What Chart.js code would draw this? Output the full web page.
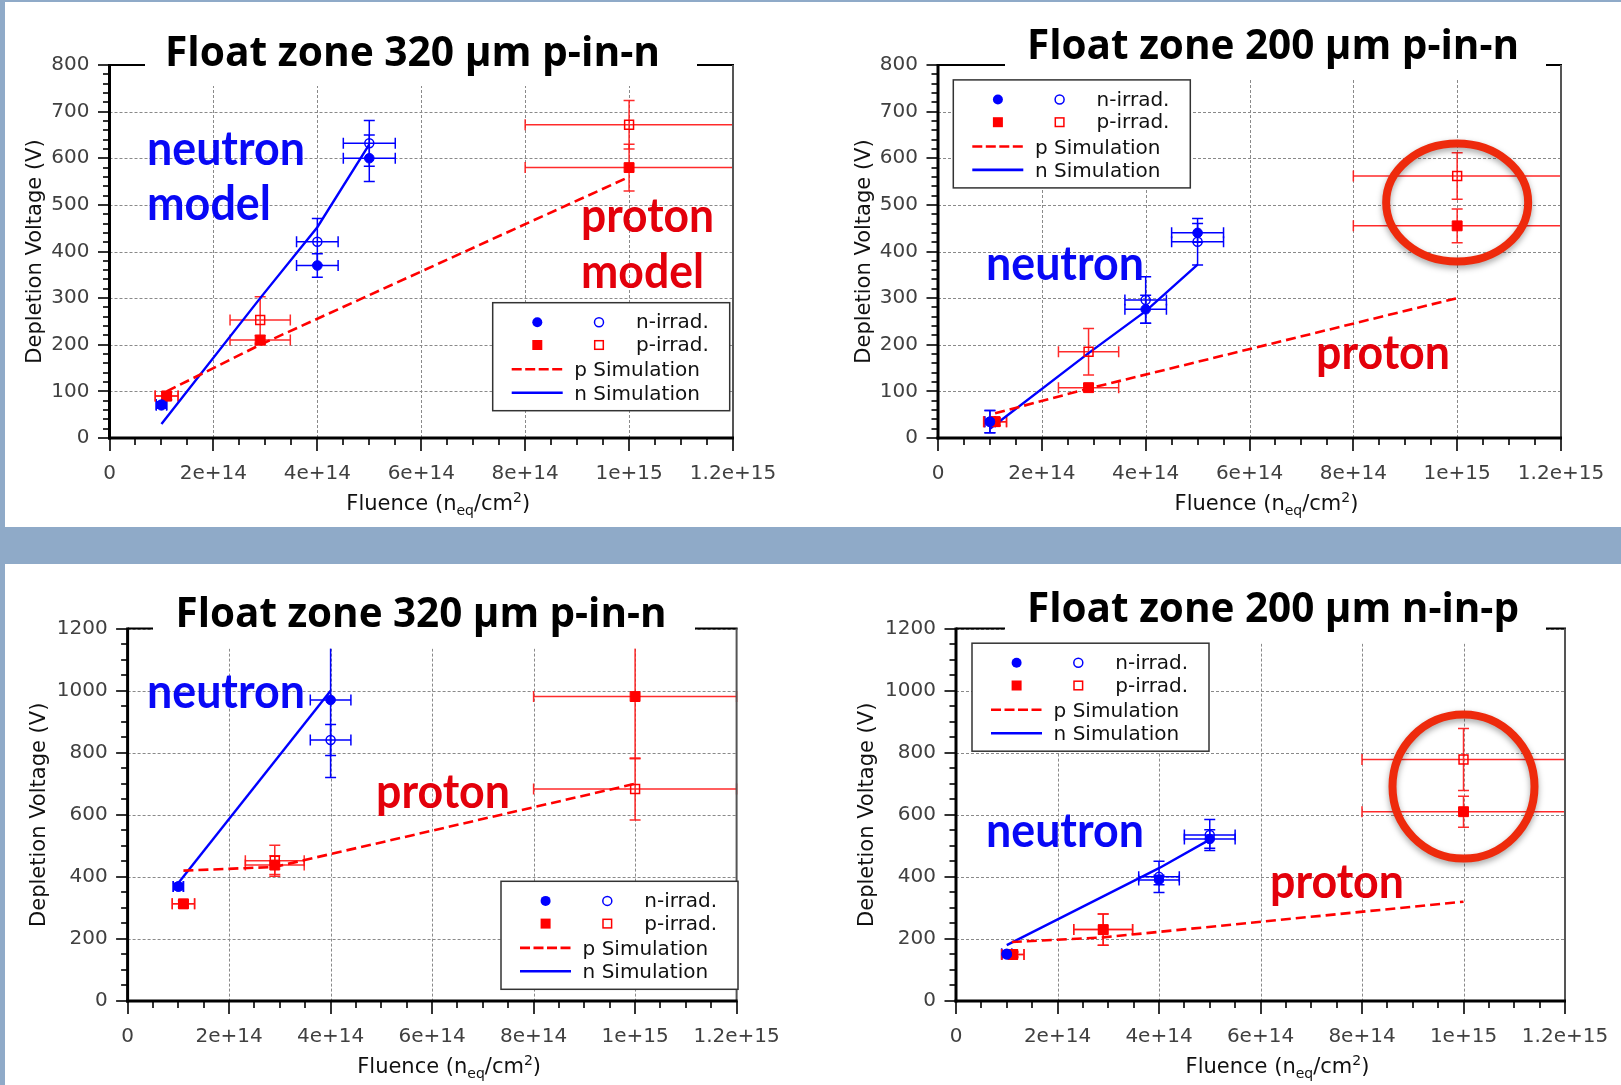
<!DOCTYPE html>
<html>
<head>
<meta charset="utf-8">
<script src="https://cdn.jsdelivr.net/npm/chart.js@4.4.1/dist/chart.umd.min.js"></script>
<style>
  body { margin: 0; width: 1621px; height: 1085px; overflow: hidden; position: relative; background: #8faac8; }
  .band { position: absolute; background: #fff; }
  canvas { position: absolute; }
</style>
</head>
<body>
<div class="band" style="left:5px;top:2px;width:1616px;height:525px"></div>
<div class="band" style="left:5px;top:564px;width:1616px;height:521px"></div>
<canvas id="c1" width="805" height="525" style="left:5px;top:2px"></canvas>
<canvas id="c2" width="811" height="525" style="left:810px;top:2px"></canvas>
<canvas id="c3" width="805" height="521" style="left:5px;top:564px"></canvas>
<canvas id="c4" width="811" height="521" style="left:810px;top:564px"></canvas>
<script>
const titles = ['Float zone 320 µm p-in-n', 'Float zone 200 µm p-in-n', 'Float zone 320 µm p-in-n', 'Float zone 200 µm n-in-p'];
const xTickLabels = ['0', '2e+14', '4e+14', '6e+14', '8e+14', '1e+15', '1.2e+15'];
const yTickLabelsTop = ['0', '100', '200', '300', '400', '500', '600', '700', '800'];
const yTickLabelsBottom = ['0', '200', '400', '600', '800', '1000', '1200'];
const legendLabels = ['n-irrad.', 'p-irrad.', 'p Simulation', 'n Simulation'];

// every point: [fluence, voltage, fluence error, voltage error]
// top left: 320 um p-in-n
const tlNFilled = [[1e14, 70, 0.1e14, 6], [4e14, 370, 0.4e14, 25], [5e14, 600, 0.5e14, 50]];
const tlNOpen = [[1e14, 72, 0.1e14, 6], [4e14, 421, 0.4e14, 50], [5e14, 632, 0.5e14, 49]];
const tlPFilled = [[1.1e14, 90, 0.22e14, 8], [2.9e14, 210, 0.58e14, 10], [1e15, 580, 2e14, 50]];
const tlPOpen = [[1.1e14, 90, 0.22e14, 8], [2.9e14, 253, 0.58e14, 50], [1e15, 672, 2e14, 52]];
const tlPSim = [[1.1e14, 100], [2.9e14, 200], [1e15, 560]];
const tlNSim = [[1e14, 30], [2.9e14, 300], [4e14, 452], [5e14, 630]];

// top right: 200 um p-in-n
const trNFilled = [[1e14, 35, 0.1e14, 24], [4e14, 276, 0.4e14, 30], [5e14, 440, 0.5e14, 20]];
const trNOpen = [[1e14, 35, 0.1e14, 24], [4e14, 296, 0.4e14, 50], [5e14, 421, 0.5e14, 50]];
const trPFilled = [[1.1e14, 35, 0.22e14, 8], [2.9e14, 108, 0.58e14, 8], [1e15, 455, 2e14, 36]];
const trPOpen = [[1.1e14, 35, 0.22e14, 8], [2.9e14, 185, 0.58e14, 50], [1e15, 562, 2e14, 50]];
const trPSim = [[1.1e14, 53], [2.9e14, 106], [1e15, 300]];
const trNSim = [[1e14, 20], [2.9e14, 182], [4e14, 272], [5e14, 372]];

// bottom left: 320 um p-in-n
const blNFilled = [[1e14, 369, 0.1e14, 10], [4e14, 970, 0.4e14, 250]];
const blNOpen = [[1e14, 369, 0.1e14, 10], [4e14, 841, 0.4e14, 50]];
const blPFilled = [[1.1e14, 313, 0.22e14, 10], [2.9e14, 438, 0.58e14, 30], [1e15, 981, 2e14, 200]];
const blPOpen = [[1.1e14, 313, 0.22e14, 10], [2.9e14, 452, 0.58e14, 50], [1e15, 683, 2e14, 100]];
const blPSim = [[1.1e14, 420], [2.9e14, 432], [1e15, 700]];
const blNSim = [[1e14, 380], [4e14, 1000]];

// bottom right: 200 um n-in-p
const brNFilled = [[1e14, 150, 0.1e14, 10], [4e14, 390, 0.4e14, 15], [5e14, 522, 0.5e14, 30]];
const brNOpen = [[1e14, 152, 0.1e14, 10], [4e14, 400, 0.4e14, 50], [5e14, 535, 0.5e14, 50]];
const brPFilled = [[1.12e14, 150, 0.22e14, 8], [2.9e14, 230, 0.58e14, 50], [1e15, 610, 2e14, 50]];
const brPOpen = [[1.12e14, 150, 0.22e14, 8], [2.9e14, 230, 0.58e14, 50], [1e15, 778, 2e14, 100]];
const brPSim = [[1.1e14, 190], [2.9e14, 205], [1e15, 320]];
const brNSim = [[1e14, 180], [4e14, 428], [5e14, 520]];

const RED = '#ff0000';
const BLUE = '#0000ff';
const TEXT_BLUE = '#0808f5';
const TEXT_RED = '#e3000b';
const RING = '#ee2a0c';

const panels = [
  { id: 'c1', title: titles[0], yMax: 800, yStep: 100, yMinor: 20, yLabels: yTickLabelsTop,
    series: [tlNFilled, tlNOpen, tlPFilled, tlPOpen, tlPSim, tlNSim],
    box: { yW: 104.5, top: 63, right: 77, xH: 89 },
    titleX: 303, titleDy: 0.5, titleW: 495, gap: [35.5, 587.5], gapBelow: 21,
    legend: [383.2, 237.7], yTitleOff: 73.5,
    texts: [['neutron', TEXT_BLUE, 37.5, 99.6, 158], ['model', TEXT_BLUE, 37.5, 155, 124],
            ['proton', TEXT_RED, 471.5, 167.4, 133], ['model', TEXT_RED, 471.5, 222.5, 123]],
    rings: [] },
  { id: 'c2', title: titles[1], yMax: 800, yStep: 100, yMinor: 20, yLabels: yTickLabelsTop,
    series: [trNFilled, trNOpen, trPFilled, trPOpen, trPSim, trNSim],
    box: { yW: 128, top: 63, right: 60, xH: 89 },
    titleX: 335, titleDy: -6.5, titleW: 492, gap: [67, 608], gapBelow: 15,
    legend: [15.3, 14.9], yTitleOff: 73.5,
    texts: [['neutron', TEXT_BLUE, 48, 214.6, 158], ['proton', TEXT_RED, 378, 303.5, 134]],
    rings: [{ x: 1e15, y: 505, rx: 71, ry: 59 }] },
  { id: 'c3', title: titles[2], yMax: 1200, yStep: 200, yMinor: 50, yLabels: yTickLabelsBottom,
    series: [blNFilled, blNOpen, blPFilled, blPOpen, blPSim, blNSim],
    box: { yW: 122.6, top: 64.6, right: 73.4, xH: 84 },
    titleX: 293.4, titleDy: -1.6, titleW: 491, gap: [25.4, 567.4], gapBelow: 20,
    legend: [373.4, 252.7], yTitleOff: 87.6,
    texts: [['neutron', TEXT_BLUE, 19.4, 79.5, 158], ['proton', TEXT_RED, 248.4, 179, 134]],
    rings: [] },
  { id: 'c4', title: titles[3], yMax: 1200, yStep: 200, yMinor: 50, yLabels: yTickLabelsBottom,
    series: [brNFilled, brNOpen, brPFilled, brPOpen, brPSim, brNSim],
    box: { yW: 146, top: 64.6, right: 56, xH: 84 },
    titleX: 317, titleDy: -7, titleW: 492, gap: [49, 590], gapBelow: 15,
    legend: [16, 14.6], yTitleOff: 88,
    texts: [['neutron', TEXT_BLUE, 30, 218, 158], ['proton', TEXT_RED, 314, 269.4, 134]],
    rings: [{ x: 1e15, y: 691, rx: 71, ry: 72 }] }
];

const X_MAX = 1.2e15, X_STEP = 2e14, X_MINOR = 5e13;

function pts(arr) {
  return arr.map(p => ({ x: p[0], y: p[1] }));
}

function makeDatasets(s) {
  return [
    { label: 'n-irrad.', data: pts(s[0]), err: s[0], errColor: BLUE, pointStyle: 'circle', pointRadius: 4.8,
      backgroundColor: BLUE, borderColor: BLUE, borderWidth: 1, showLine: false },
    { label: 'n-irrad. open', data: pts(s[1]), err: s[1], errColor: BLUE, pointStyle: 'circle', pointRadius: 4.5,
      backgroundColor: 'rgba(0,0,0,0)', borderColor: BLUE, borderWidth: 1.5, showLine: false },
    { label: 'p-irrad.', data: pts(s[2]), err: s[2], errColor: 'rgba(255,20,20,0.9)', pointStyle: 'rect', pointRadius: 7,
      backgroundColor: RED, borderColor: RED, borderWidth: 1, showLine: false },
    { label: 'p-irrad. open', data: pts(s[3]), err: s[3], errColor: 'rgba(255,20,20,0.9)', pointStyle: 'rect', pointRadius: 6.3,
      backgroundColor: 'rgba(0,0,0,0)', borderColor: RED, borderWidth: 1.5, showLine: false },
    { label: 'p Simulation', data: pts(s[4]), showLine: true, borderColor: RED, borderWidth: 2.6,
      borderDash: [10, 5], pointRadius: 0, fill: false },
    { label: 'n Simulation', data: pts(s[5]), showLine: true, borderColor: BLUE, borderWidth: 2.4,
      pointRadius: 0, fill: false }
  ];
}

function drawLegend(ctx, L, T) {
  const W = 237, H = 108;
  ctx.save();
  ctx.fillStyle = '#fff';
  ctx.fillRect(L, T, W, H);
  ctx.strokeStyle = '#333';
  ctx.lineWidth = 1.5;
  ctx.strokeRect(L, T, W, H);
  const rows = [T + 19.6, T + 42.3, T + 66.6, T + 90];
  // markers
  ctx.fillStyle = BLUE;
  ctx.beginPath(); ctx.arc(L + 44.6, rows[0], 5, 0, Math.PI * 2); ctx.fill();
  ctx.strokeStyle = BLUE; ctx.lineWidth = 1.5;
  ctx.beginPath(); ctx.arc(L + 106.3, rows[0], 4.5, 0, Math.PI * 2); ctx.stroke();
  ctx.fillStyle = RED;
  ctx.fillRect(L + 44.6 - 5, rows[1] - 5, 10, 10);
  ctx.strokeStyle = RED;
  ctx.strokeRect(L + 106.3 - 4.3, rows[1] - 4.3, 8.6, 8.6);
  // lines
  ctx.lineWidth = 2.6;
  ctx.strokeStyle = RED;
  ctx.setLineDash([10, 3.5]);
  ctx.beginPath(); ctx.moveTo(L + 19, rows[2]); ctx.lineTo(L + 70, rows[2]); ctx.stroke();
  ctx.setLineDash([]);
  ctx.strokeStyle = BLUE;
  ctx.beginPath(); ctx.moveTo(L + 19, rows[3]); ctx.lineTo(L + 70, rows[3]); ctx.stroke();
  // labels
  ctx.fillStyle = '#111';
  ctx.font = '20px "DejaVu Sans"';
  ctx.textAlign = 'left';
  ctx.textBaseline = 'alphabetic';
  ctx.fillText(legendLabels[0], L + 143.3, rows[0] + 6);
  ctx.fillText(legendLabels[1], L + 143.3, rows[1] + 6);
  ctx.fillText(legendLabels[2], L + 81.6, rows[2] + 7);
  ctx.fillText(legendLabels[3], L + 81.6, rows[3] + 7);
  ctx.restore();
}

function drawXTitle(ctx, cx, baseline) {
  const big = '21px "DejaVu Sans"', small = '14px "DejaVu Sans"';
  const parts = [['Fluence (n', big, 0], ['eq', small, 5], ['/cm', big, 0], ['2', small, -8], [')', big, 0]];
  let total = 0;
  parts.forEach(p => { ctx.font = p[1]; total += ctx.measureText(p[0]).width; });
  let x = cx - total / 2;
  ctx.fillStyle = '#111';
  ctx.textAlign = 'left';
  ctx.textBaseline = 'alphabetic';
  parts.forEach(p => {
    ctx.font = p[1];
    ctx.fillText(p[0], x, baseline + p[2]);
    x += ctx.measureText(p[0]).width;
  });
}

function panelPlugin(p) {
  return {
    id: 'panel' + p.id,
    beforeDatasetsDraw(chart) {
      const { ctx, chartArea: a, scales: { x, y } } = chart;
      ctx.save();
      // dashed grid
      ctx.strokeStyle = '#8a8a8a';
      ctx.lineWidth = 1;
      ctx.setLineDash([3, 2]);
      for (let v = p.yStep; v <= p.yMax; v += p.yStep) {
        const py = Math.round(y.getPixelForValue(v)) + 0.5;
        ctx.beginPath(); ctx.moveTo(a.left, py); ctx.lineTo(a.right, py); ctx.stroke();
      }
      for (let i = 1; i < xTickLabels.length - 1; i++) {
        const px = Math.round(x.getPixelForValue(i * X_STEP)) + 0.5;
        ctx.beginPath(); ctx.moveTo(px, a.top); ctx.lineTo(px, a.bottom); ctx.stroke();
      }
      ctx.setLineDash([]);
      // error bars
      ctx.beginPath();
      ctx.rect(a.left, a.top, a.right - a.left + 3, a.bottom - a.top);
      ctx.clip();
      ctx.lineWidth = 1.5;
      chart.data.datasets.forEach(ds => {
        if (!ds.err) return;
        ctx.strokeStyle = ds.errColor;
        ds.err.forEach(e => {
          const cx = x.getPixelForValue(e[0]), cy = y.getPixelForValue(e[1]);
          const x1 = x.getPixelForValue(e[0] - e[2]), x2 = x.getPixelForValue(e[0] + e[2]);
          const y1 = y.getPixelForValue(e[1] - e[3]), y2 = y.getPixelForValue(e[1] + e[3]);
          ctx.beginPath();
          ctx.moveTo(x1, cy); ctx.lineTo(x2, cy);
          ctx.moveTo(x1, cy - 5.5); ctx.lineTo(x1, cy + 5.5);
          ctx.moveTo(x2, cy - 5.5); ctx.lineTo(x2, cy + 5.5);
          ctx.moveTo(cx, y1); ctx.lineTo(cx, y2);
          ctx.moveTo(cx - 5.5, y1); ctx.lineTo(cx + 5.5, y1);
          ctx.moveTo(cx - 5.5, y2); ctx.lineTo(cx + 5.5, y2);
          ctx.stroke();
        });
      });
      ctx.restore();
    },
    afterDraw(chart) {
      const { ctx, chartArea: a, scales: { x, y } } = chart;
      ctx.save();
      // frame
      ctx.strokeStyle = '#000';
      ctx.lineWidth = 2;
      ctx.beginPath(); ctx.moveTo(a.left, a.top); ctx.lineTo(a.right + 1, a.top); ctx.stroke();
      ctx.strokeStyle = '#555';
      ctx.beginPath(); ctx.moveTo(a.right, a.top); ctx.lineTo(a.right, a.bottom); ctx.stroke();
      ctx.strokeStyle = '#000';
      ctx.lineWidth = 3;
      ctx.beginPath(); ctx.moveTo(a.left, a.top - 1); ctx.lineTo(a.left, a.bottom + 1.5); ctx.stroke();
      ctx.beginPath(); ctx.moveTo(a.left - 1.5, a.bottom); ctx.lineTo(a.right + 1, a.bottom); ctx.stroke();
      // tick marks, major and minor
      ctx.lineWidth = 1.6;
      for (let i = 0; i * X_MINOR <= X_MAX + 1; i++) {
        const px = Math.round(x.getPixelForValue(i * X_MINOR));
        const len = i % 4 === 0 ? 13 : 7;
        ctx.beginPath(); ctx.moveTo(px, a.bottom); ctx.lineTo(px, a.bottom + len); ctx.stroke();
      }
      const per = p.yStep / p.yMinor;
      for (let i = 0; i * p.yMinor <= p.yMax; i++) {
        const py = Math.round(y.getPixelForValue(i * p.yMinor));
        const len = i % per === 0 ? 11.5 : 6.5;
        ctx.beginPath(); ctx.moveTo(a.left, py); ctx.lineTo(a.left - len, py); ctx.stroke();
      }
      // white gap for the title
      ctx.fillStyle = '#fff';
      ctx.fillRect(a.left + p.gap[0], 0, p.gap[1] - p.gap[0], a.top + p.gapBelow);
      ctx.fillStyle = '#000';
      ctx.font = 'bold 42px "Open Sans"';
      ctx.textAlign = 'center';
      ctx.textBaseline = 'alphabetic';
      ctx.fillText(p.title, a.left + p.titleX, a.top + p.titleDy, p.titleW);
      // legend
      drawLegend(ctx, a.left + p.legend[0], a.top + p.legend[1]);
      // axis titles
      ctx.save();
      ctx.translate(a.left - p.yTitleOff, (a.top + a.bottom) / 2);
      ctx.rotate(-Math.PI / 2);
      ctx.fillStyle = '#111';
      ctx.font = '21px "DejaVu Sans"';
      ctx.textAlign = 'center';
      ctx.textBaseline = 'middle';
      ctx.fillText('Depletion Voltage (V)', 0, 0);
      ctx.restore();
      drawXTitle(ctx, (a.left + a.right) / 2 + 17, a.bottom + 72);
      // annotations
      ctx.font = 'bold 48px Lato';
      ctx.textAlign = 'left';
      p.texts.forEach(t => {
        ctx.fillStyle = t[1];
        ctx.fillText(t[0], a.left + t[2], a.top + t[3], t[4]);
      });
      p.rings.forEach(r => {
        ctx.save();
        ctx.shadowColor = 'rgba(0,0,0,0.35)';
        ctx.shadowBlur = 6;
        ctx.shadowOffsetY = 3;
        ctx.strokeStyle = RING;
        ctx.lineWidth = 8;
        ctx.beginPath();
        ctx.ellipse(x.getPixelForValue(r.x), y.getPixelForValue(r.y), r.rx, r.ry, 0, 0, Math.PI * 2);
        ctx.stroke();
        ctx.restore();
      });
      ctx.restore();
    }
  };
}

panels.forEach(p => {
  const ctx = document.getElementById(p.id).getContext('2d');
  new Chart(ctx, {
    type: 'scatter',
    data: { datasets: makeDatasets(p.series) },
    options: {
      responsive: false,
      animation: false,
      layout: { padding: { left: 0, top: p.box.top, right: p.box.right, bottom: 0 } },
      plugins: { legend: { display: false }, tooltip: { enabled: false } },
      scales: {
        x: {
          type: 'linear', min: 0, max: X_MAX,
          // tickLength only pushes the labels down, the marks themselves are drawn by the plugin
          grid: { display: false, drawTicks: true, tickLength: 24 },
          border: { display: false },
          afterFit: s => { s.height = p.box.xH; },
          ticks: {
            stepSize: X_STEP, autoSkip: false, maxRotation: 0, padding: 0,
            color: '#404040', font: { family: 'DejaVu Sans', size: 20 },
            callback: (v, i) => xTickLabels[i]
          }
        },
        y: {
          type: 'linear', min: 0, max: p.yMax,
          grid: { display: false, drawTicks: false },
          border: { display: false },
          afterFit: s => { s.width = p.box.yW; },
          ticks: {
            stepSize: p.yStep, autoSkip: false, padding: 20,
            color: '#404040', font: { family: 'DejaVu Sans', size: 20 },
            callback: (v, i) => p.yLabels[i]
          }
        }
      }
    },
    plugins: [panelPlugin(p)]
  });
});
</script>
</body>
</html>
